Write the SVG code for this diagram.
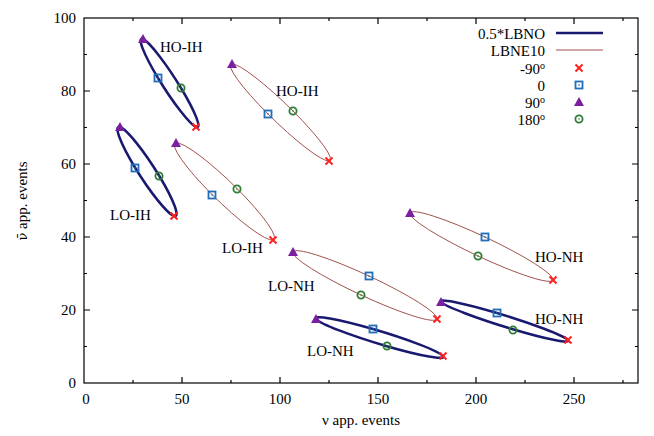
<svg xmlns="http://www.w3.org/2000/svg" xmlns:xlink="http://www.w3.org/1999/xlink" width="654" height="436" viewBox="0 0 654 436">
<style>
text{font-family:"Liberation Serif",serif;font-size:15px;fill:#000}
.lbno{fill:none;stroke:#191970;stroke-width:2.5}
.lbne{fill:none;stroke:#a0524d;stroke-width:1}
.ax{fill:none;stroke:#000;stroke-width:1.2}
</style>
<defs>
<g id="mx"><path d="M-3.5,-3.5L3.5,3.5M-3.5,3.5L3.5,-3.5" stroke="#ff2020" stroke-width="2"/></g>
<g id="ms"><rect x="-3.5" y="-3.5" width="7" height="7" fill="none" stroke="#1f6fb8" stroke-width="1.8"/><rect x="-0.7" y="-0.7" width="1.4" height="1.4" fill="#1f6fb8"/></g>
<g id="mt"><path d="M0,-5L5,4L-5,4Z" fill="#7a1fa0"/></g>
<g id="mc"><circle r="3.6" fill="none" stroke="#2e7d32" stroke-width="1.8"/><circle r="0.8" fill="#2e7d32"/></g>
</defs>
<g id="axes">
<rect class="ax" x="84" y="18" width="554" height="365"/>
<path class="ax" d="M182,383v-6M280,383v-6M378,383v-6M476,383v-6M574,383v-6M182,18v6M280,18v6M378,18v6M476,18v6M574,18v6M133,383v-3M231,383v-3M329,383v-3M427,383v-3M525,383v-3M623,383v-3M133,18v3M231,18v3M329,18v3M427,18v3M525,18v3M623,18v3M84,310h6M84,237h6M84,164h6M84,91h6M638,310h-6M638,237h-6M638,164h-6M638,91h-6M84,346.5h3M84,273.5h3M84,200.5h3M84,127.5h3M84,54.5h3M638,346.5h-3M638,273.5h-3M638,200.5h-3M638,127.5h-3M638,54.5h-3"/>
<g text-anchor="middle"><text x="86" y="404">0</text><text x="182" y="404">50</text><text x="280" y="404">100</text><text x="378" y="404">150</text><text x="476" y="404">200</text><text x="574" y="404">250</text></g>
<g text-anchor="end"><text x="76" y="388">0</text><text x="76" y="315">20</text><text x="76" y="242">40</text><text x="76" y="169">60</text><text x="76" y="96">80</text><text x="76" y="23">100</text></g>
<text x="361" y="425" text-anchor="middle">ν app. events</text>
<text transform="translate(27,201) rotate(-90)" text-anchor="middle"><tspan font-family="DejaVu Serif" font-size="13">ν̄</tspan> app. events</text>
</g>
<g id="connectors">
<ellipse class="lbno" rx="1" ry="1" vector-effect="non-scaling-stroke" transform="matrix(-11.5 -5 -26.5 -44 169.5 83)"/>
<ellipse class="lbne" rx="1" ry="1" vector-effect="non-scaling-stroke" transform="matrix(-12.5 1.5 -48.5 -48.5 280.5 112.5)"/>
<ellipse class="lbno" rx="1" ry="1" vector-effect="non-scaling-stroke" transform="matrix(-12 -4 -27 -44.5 147 171.5)"/>
<ellipse class="lbne" rx="1" ry="1" vector-effect="non-scaling-stroke" transform="matrix(-12.5 3 -48.5 -48.5 224.5 191.5)"/>
<ellipse class="lbne" rx="1" ry="1" vector-effect="non-scaling-stroke" transform="matrix(4 -9.5 -72 -33.5 365 285.5)"/>
<ellipse class="lbno" rx="1" ry="1" vector-effect="non-scaling-stroke" transform="matrix(-6.5 -8.5 -63.5 -18.5 379.5 337.5)"/>
<ellipse class="lbne" rx="1" ry="1" vector-effect="non-scaling-stroke" transform="matrix(3.5 -9.5 -71.5 -33.5 481.5 246.5)"/>
<ellipse class="lbno" rx="1" ry="1" vector-effect="non-scaling-stroke" transform="matrix(-7.5 -8 -63.5 -19 504.5 321)"/>
</g>
<g id="points">
<use xlink:href="#mt" x="143" y="39"/><use xlink:href="#mx" x="196" y="127"/><use xlink:href="#ms" x="158" y="78"/><use xlink:href="#mc" x="181" y="88"/>
<use xlink:href="#mt" x="232" y="64"/><use xlink:href="#mx" x="329" y="161"/><use xlink:href="#ms" x="268" y="114"/><use xlink:href="#mc" x="293" y="111"/>
<use xlink:href="#mt" x="120" y="127"/><use xlink:href="#mx" x="174" y="216"/><use xlink:href="#ms" x="135" y="168"/><use xlink:href="#mc" x="159" y="176"/>
<use xlink:href="#mt" x="176" y="143"/><use xlink:href="#mx" x="273" y="240"/><use xlink:href="#ms" x="212" y="195"/><use xlink:href="#mc" x="237" y="189"/>
<use xlink:href="#mt" x="293" y="252"/><use xlink:href="#mx" x="437" y="319"/><use xlink:href="#ms" x="369" y="276"/><use xlink:href="#mc" x="361" y="295"/>
<use xlink:href="#mt" x="316" y="319"/><use xlink:href="#mx" x="443" y="356"/><use xlink:href="#ms" x="373" y="329"/><use xlink:href="#mc" x="387" y="346"/>
<use xlink:href="#mt" x="410" y="213"/><use xlink:href="#mx" x="553" y="280"/><use xlink:href="#ms" x="485" y="237"/><use xlink:href="#mc" x="478" y="256"/>
<use xlink:href="#mt" x="441" y="302"/><use xlink:href="#mx" x="568" y="340"/><use xlink:href="#ms" x="497" y="313"/><use xlink:href="#mc" x="513" y="330"/>
</g>
<g id="labels">
<text x="160" y="52">HO-IH</text><text x="276" y="96">HO-IH</text>
<text x="110" y="220">LO-IH</text><text x="222" y="253">LO-IH</text>
<text x="268" y="291">LO-NH</text><text x="307" y="356">LO-NH</text>
<text x="535" y="262">HO-NH</text><text x="535" y="324">HO-NH</text>
</g>
<g id="legend">
<g text-anchor="end">
<text x="545" y="39">0.5*LBNO</text><text x="545" y="56">LBNE10</text>
<text x="545" y="74">-90<tspan dy="-5" font-size="10">o</tspan></text>
<text x="545" y="91">0</text>
<text x="545" y="108">90<tspan dy="-5" font-size="10">o</tspan></text>
<text x="545" y="125">180<tspan dy="-5" font-size="10">o</tspan></text>
</g>
<path class="lbno" d="M556,33H603"/><path class="lbne" d="M556,50H603"/>
<use xlink:href="#mx" x="579" y="68"/><use xlink:href="#ms" x="579" y="85"/><use xlink:href="#mt" x="579" y="102"/><use xlink:href="#mc" x="579" y="119"/>
</g>
</svg>
